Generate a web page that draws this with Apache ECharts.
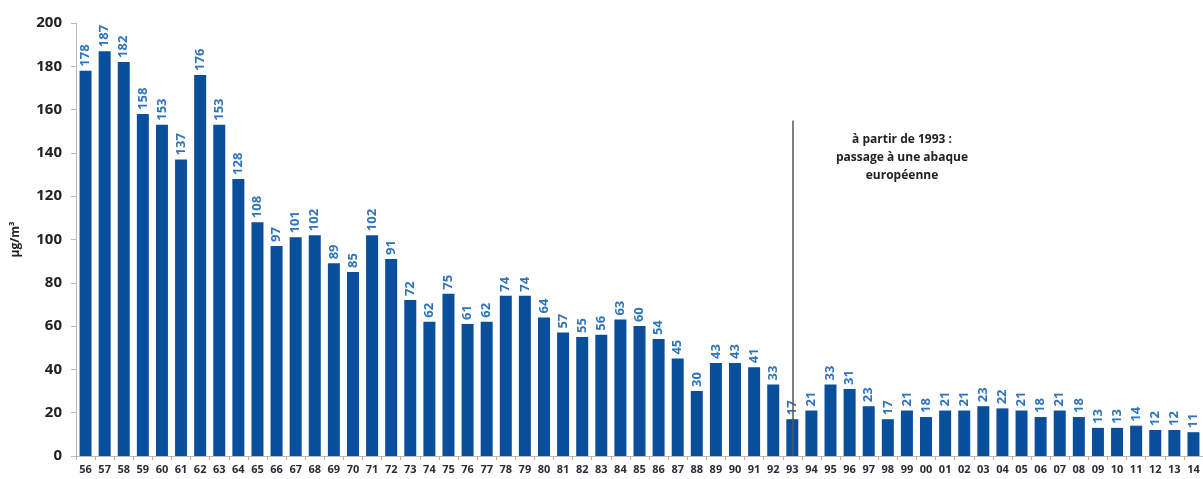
<!DOCTYPE html>
<html>
<head>
<meta charset="utf-8">
<script src="https://cdn.jsdelivr.net/npm/echarts@6/dist/echarts.min.js"></script>
<style>
  html, body { margin: 0; padding: 0; background: #fff; }
  #chart { width: 1203px; height: 479px; }
</style>
</head>
<body>
<div id="chart"></div>
<script>
const years = [
  '56', '57', '58', '59', '60', '61', '62', '63', '64', '65', '66', '67', '68', '69',
  '70', '71', '72', '73', '74', '75', '76', '77', '78', '79', '80', '81', '82', '83',
  '84', '85', '86', '87', '88', '89', '90', '91', '92', '93', '94', '95', '96', '97',
  '98', '99', '00', '01', '02', '03', '04', '05', '06', '07', '08', '09', '10', '11',
  '12', '13', '14'
]
const values = [
  178, 187, 182, 158, 153, 137, 176, 153, 128, 108, 97, 101, 102, 89,
  85, 102, 91, 72, 62, 75, 61, 62, 74, 74, 64, 57, 55, 56,
  63, 60, 54, 45, 30, 43, 43, 41, 33, 17, 21, 33, 31, 23,
  17, 21, 18, 21, 21, 23, 22, 21, 18, 21, 18, 13, 13, 14,
  12, 12, 11
]
const yTicks = [0, 20, 40, 60, 80, 100, 120, 140, 160, 180, 200]
const breakYear = '93'
const note = 'à partir de 1993 :\npassage à une abaque\neuropéenne'

const chart = echarts.init(document.getElementById('chart'))

const option = {
  animation: false,
  grid: { left: 76, right: 0, top: 23, bottom: 23, containLabel: false },
  xAxis: {
    type: 'category',
    data: years,
    axisLine: { lineStyle: { color: '#bbbbbb' } },
    axisTick: { show: true, length: 4, lineStyle: { color: '#c9a98f' } },
    axisLabel: {
      interval: 0,
      margin: 8,
      color: '#2b2b3a',
      fontSize: 11,
      fontWeight: 'bold',
      fontFamily: 'Open Sans'
    }
  },
  yAxis: {
    type: 'value',
    min: yTicks[0],
    max: yTicks[yTicks.length - 1],
    interval: 20,
    name: 'µg/m³',
    nameLocation: 'middle',
    nameGap: 54,
    nameRotate: 90,
    nameTextStyle: { color: '#222', fontSize: 12, fontWeight: 'bold', fontFamily: 'Open Sans' },
    axisLine: { show: true, lineStyle: { color: '#bbbbbb' } },
    axisTick: { show: true, length: 5, lineStyle: { color: '#bbbbbb' } },
    splitLine: { show: false },
    axisLabel: {
      margin: 14,
      color: '#222',
      fontSize: 15,
      fontWeight: 'bold',
      fontFamily: 'Open Sans'
    }
  },
  series: [{
    type: 'bar',
    data: values,
    barWidth: 12,
    itemStyle: { color: '#0a4f9c' },
    label: {
      show: true,
      position: 'top',
      rotate: 90,
      align: 'left',
      verticalAlign: 'middle',
      distance: 4,
      color: '#2f74ba',
      fontSize: 13,
      fontWeight: 'bold',
      fontFamily: 'Open Sans'
    },
    markLine: {
      silent: true,
      symbol: 'none',
      label: { show: false },
      lineStyle: { color: '#555', width: 1.5, type: 'solid' },
      data: [[{ coord: [breakYear, 0] }, { coord: [breakYear, 155] }]]
    }
  }],
  graphic: [{
    type: 'text',
    left: 836,
    top: 131,
    style: {
      text: note,
      textAlign: 'center',
      fill: '#222',
      fontSize: 12,
      fontWeight: 'bold',
      fontFamily: 'Open Sans',
      lineHeight: 18
    }
  }]
}

chart.setOption(option)
</script>
</body>
</html>
